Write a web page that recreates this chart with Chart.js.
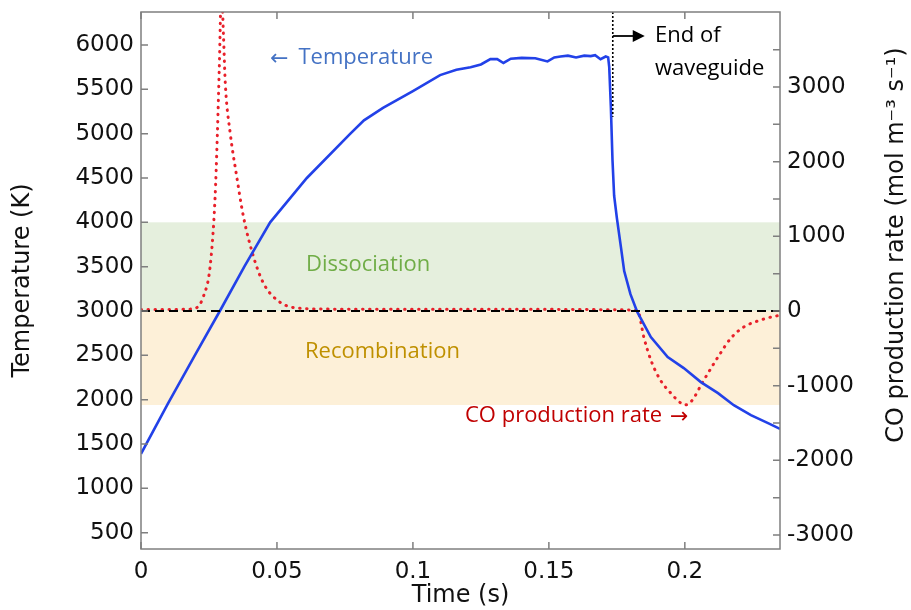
<!DOCTYPE html>
<html><head><meta charset="utf-8">
<script src="https://cdn.jsdelivr.net/npm/chart.js@4/dist/chart.umd.min.js"></script>
<style>html,body{margin:0;padding:0;background:#fff}#wrap{width:911px;height:610px}</style>
</head><body><div id="wrap"><canvas id="c" width="911" height="610"></canvas></div>
<script>
// ---- data ----
const timeTemp = [0, 0.01, 0.02, 0.029, 0.038, 0.0475, 0.061, 0.077, 0.082, 0.089, 0.1, 0.11, 0.116, 0.1212, 0.125, 0.1285, 0.131, 0.1333, 0.136, 0.14, 0.145, 0.1495, 0.152, 0.1543, 0.157, 0.16, 0.163, 0.1654, 0.167, 0.169, 0.1709, 0.1718, 0.1722, 0.1728, 0.1734, 0.174, 0.175, 0.1765, 0.1777, 0.18, 0.1825, 0.1875, 0.1937, 0.1996, 0.2059, 0.2122, 0.218, 0.2243, 0.2306, 0.235];
const temperature = [1390, 1960, 2510, 3000, 3500, 4000, 4500, 5000, 5150, 5290, 5480, 5660, 5720, 5750, 5780, 5840, 5840, 5797, 5845, 5855, 5850, 5815, 5860, 5870, 5880, 5860, 5880, 5875, 5885, 5840, 5870, 5860, 5750, 5300, 4700, 4300, 4050, 3720, 3450, 3190, 2990, 2706, 2480, 2356, 2198, 2074, 1938, 1825, 1735, 1670];
const timeCO = [0, 0.01, 0.018, 0.0205, 0.023, 0.0254, 0.0272, 0.0281, 0.0288, 0.0296, 0.0303, 0.031, 0.0328, 0.035, 0.0377, 0.0414, 0.045, 0.05, 0.0573, 0.07, 0.1, 0.15, 0.18, 0.1827, 0.1849, 0.1875, 0.191, 0.1948, 0.1985, 0.2, 0.2022, 0.207, 0.2122, 0.217, 0.2217, 0.228, 0.2335, 0.235];
const coRate = [20, 20, 25, 45, 200, 590, 1486, 2383, 3266, 4300, 3717, 3050, 2383, 1847, 1260, 723, 375, 147, 40, 25, 22, 22, 15, 0, -348, -656, -924, -1098, -1232, -1258, -1218, -924, -616, -361, -214, -120, -67, -60];
const timeTicks = [0, 0.05, 0.1, 0.15, 0.2];
const tempTicks = [500, 1000, 1500, 2000, 2500, 3000, 3500, 4000, 4500, 5000, 5500, 6000];
const coTicks = [-3000, -2500, -2000, -1500, -1000, -500, 0, 500, 1000, 1500, 2000, 2500, 3000, 3500];
const coTickLabels = ['-3000', '', '-2000', '', '-1000', '', '0', '', '1000', '', '2000', '', '3000', ''];
const bandDissociation = [3000, 4000];   // K
const bandRecombination = [1940, 3000];  // K
const thresholdTemp = 3000;              // K
const waveguideEnd = 0.1735;             // s
const waveguideLineBottom = 5190;        // K
const xRange = [0, 0.235];
const tempRange = [316, 6372];
const coRange = [-3187, 4004];

const AX = '#7f7f7f';
const tickFont = {family: '"DejaVu Sans"', size: 23};
const titleFont = {family: '"DejaVu Sans"', size: 24};

function labelWithArrow(ctx, text, arrow, x, y, arrowFirst) {
  const f1 = '22px "Open Sans"', f2 = '22px "DejaVu Sans"';
  if (arrowFirst) {
    ctx.font = f2; ctx.fillText(arrow, x, y + 1);
    const w = ctx.measureText(arrow).width;
    ctx.font = f1; ctx.fillText(text, x + w + 10, y);
  } else {
    ctx.font = f1; ctx.fillText(text, x, y);
    const w = ctx.measureText(text).width;
    ctx.font = f2; ctx.fillText(arrow, x + w + 8, y + 1);
  }
}

const overlay = {
  id: 'overlay',
  beforeDatasetsDraw(chart) {
    const {ctx, chartArea: a, scales: {y}} = chart;
    ctx.save();
    ctx.beginPath(); ctx.rect(a.left, a.top, a.right - a.left, a.bottom - a.top); ctx.clip();
    const band = (r, col) => {
      const y1 = y.getPixelForValue(r[1]), y0 = y.getPixelForValue(r[0]);
      ctx.fillStyle = col; ctx.fillRect(a.left, y1, a.right - a.left, y0 - y1);
    };
    band(bandDissociation, '#e5efdd');
    band(bandRecombination, '#fdf0d8');
    ctx.restore();
  },
  afterDatasetsDraw(chart) {
    const {ctx, chartArea: a, scales: {x, y, y2}} = chart;
    ctx.save();
    const ty = y.getPixelForValue(thresholdTemp);
    ctx.strokeStyle = '#000'; ctx.lineWidth = 2; ctx.setLineDash([9, 5]);
    ctx.beginPath(); ctx.moveTo(a.left, ty); ctx.lineTo(a.right, ty); ctx.stroke();
    const wx = x.getPixelForValue(waveguideEnd);
    ctx.lineWidth = 1.6; ctx.setLineDash([2, 2]);
    ctx.beginPath(); ctx.moveTo(wx, a.top); ctx.lineTo(wx, y.getPixelForValue(waveguideLineBottom)); ctx.stroke();
    ctx.setLineDash([]);
    const ay = 36;
    ctx.lineWidth = 1.8;
    ctx.beginPath(); ctx.moveTo(wx, ay); ctx.lineTo(wx + 22, ay); ctx.stroke();
    ctx.fillStyle = '#000';
    ctx.beginPath(); ctx.moveTo(wx + 20, ay - 6); ctx.lineTo(wx + 32, ay); ctx.lineTo(wx + 20, ay + 6); ctx.closePath(); ctx.fill();
    ctx.strokeStyle = AX; ctx.lineWidth = 1.5;
    ctx.strokeRect(a.left, a.top, a.right - a.left, a.bottom - a.top);
    const TL = 7;
    ctx.beginPath();
    x.ticks.forEach(t => { const px = x.getPixelForValue(t.value);
      ctx.moveTo(px, a.bottom); ctx.lineTo(px, a.bottom - TL);
      ctx.moveTo(px, a.top); ctx.lineTo(px, a.top + TL); });
    y.ticks.forEach(t => { const py = y.getPixelForValue(t.value);
      ctx.moveTo(a.left, py); ctx.lineTo(a.left + TL, py); });
    y2.ticks.forEach(t => { const py = y2.getPixelForValue(t.value);
      ctx.moveTo(a.right, py); ctx.lineTo(a.right - TL, py); });
    ctx.stroke();
    ctx.textBaseline = 'middle'; ctx.textAlign = 'left';
    ctx.font = '22px "Open Sans"';
    ctx.fillStyle = '#000';
    ctx.fillText('End of', 655, 36);
    ctx.fillText('waveguide', 655, 69);
    ctx.fillStyle = '#4472c4';
    labelWithArrow(ctx, 'Temperature', '\u2190', 270, 58, true);
    ctx.fillStyle = '#70ad47';
    ctx.font = '22px "Open Sans"';
    ctx.fillText('Dissociation', 306, 265);
    ctx.fillStyle = '#bf9000';
    ctx.fillText('Recombination', 305, 352);
    ctx.fillStyle = '#c00000';
    labelWithArrow(ctx, 'CO production rate', '\u2192', 465, 416, false);
    ctx.translate(897, 245); ctx.rotate(-Math.PI / 2);
    ctx.textAlign = 'center'; ctx.fillStyle = '#111';
    ctx.font = '24px "DejaVu Sans"';
    ctx.fillText('CO production rate (mol m\u207B\u00B3 s\u207B\u00B9)', 0, 0);
    ctx.restore();
  }
};

const tempPts = timeTemp.map((t, i) => ({x: t, y: temperature[i]}));
const coPts = timeCO.map((t, i) => ({x: t, y: coRate[i]}));
const noGrid = {display: false, tickLength: 0, drawTicks: false};

new Chart(document.getElementById('c'), {
  type: 'line',
  data: {datasets: [
    {label: 'Temperature', data: tempPts, yAxisID: 'y', borderColor: '#2241e8', borderWidth: 2.6,
     pointRadius: 0, tension: 0, clip: 0},
    {label: 'CO production rate', data: coPts, yAxisID: 'y2', borderColor: '#e8202a', borderWidth: 3,
     borderDash: [0.5, 6.5], borderCapStyle: 'round', pointRadius: 0, cubicInterpolationMode: 'monotone', clip: 0}
  ]},
  options: {
    responsive: false, animation: false, devicePixelRatio: 1,
    layout: {padding: {top: 12, left: 0, right: 0, bottom: 0}},
    plugins: {legend: {display: false}, tooltip: {enabled: false}},
    scales: {
      x: {type: 'linear', min: xRange[0], max: xRange[1], grid: noGrid, border: {display: false},
          afterBuildTicks: s => { s.ticks = timeTicks.map(v => ({value: v})); },
          ticks: {font: tickFont, color: '#111', padding: 9, maxRotation: 0, autoSkip: false,
                  callback: (v, i) => String(timeTicks[i])},
          title: {display: true, text: 'Time (s)', font: titleFont, color: '#111', padding: {top: 0, bottom: 0}},
          afterFit: s => { s.height = 61; s.paddingLeft = 0; s.paddingRight = 0; }},
      y: {type: 'linear', position: 'left', min: tempRange[0], max: tempRange[1], grid: noGrid, border: {display: false},
          afterBuildTicks: s => { s.ticks = tempTicks.map(v => ({value: v})); },
          ticks: {font: tickFont, color: '#111', padding: 7, autoSkip: false, callback: (v, i) => String(tempTicks[i])},
          title: {display: true, text: 'Temperature (K)', font: titleFont, color: '#111', padding: {top: 8, bottom: 0}},
          afterFit: s => { s.width = 141; s.paddingTop = 0; s.paddingBottom = 0; }},
      y2: {type: 'linear', position: 'right', min: coRange[0], max: coRange[1], grid: noGrid, border: {display: false},
          afterBuildTicks: s => { s.ticks = coTicks.map(v => ({value: v})); },
          ticks: {font: tickFont, color: '#111', padding: 7, autoSkip: false, callback: (v, i) => coTickLabels[i]},
          title: {display: false},
          afterFit: s => { s.width = 131; s.paddingTop = 0; s.paddingBottom = 0; }}
    }
  },
  plugins: [overlay]
});
</script></body></html>
